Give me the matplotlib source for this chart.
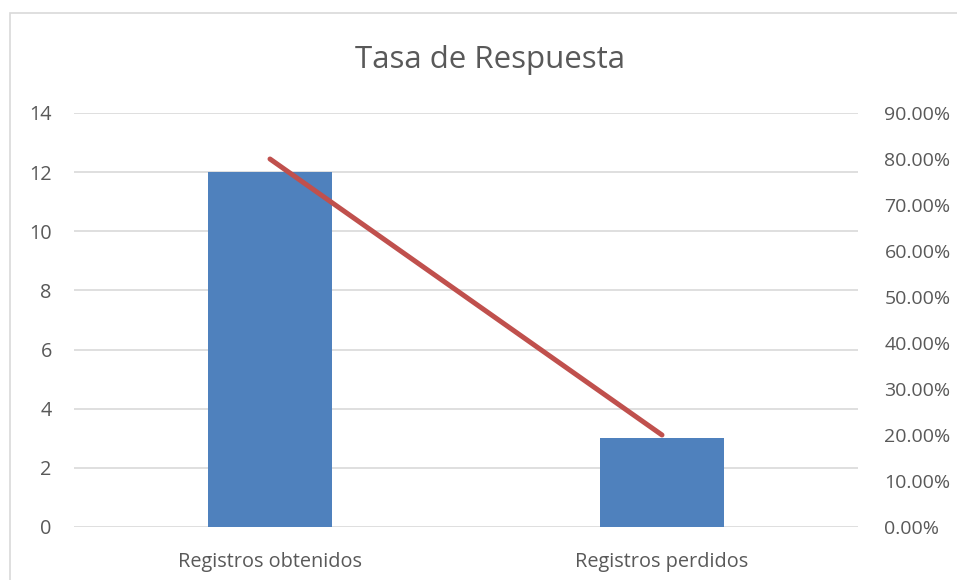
import matplotlib
matplotlib.use("Agg")
import matplotlib.pyplot as plt
from matplotlib.patches import Rectangle
from matplotlib.ticker import FuncFormatter

categories = ["Registros obtenidos", "Registros perdidos"]
counts = [12, 3]
rates = [0.80, 0.20]
left_ticks = [0, 2, 4, 6, 8, 10, 12, 14]
right_ticks = [0, 0.1, 0.2, 0.3, 0.4, 0.5, 0.6, 0.7, 0.8, 0.9]

plt.rcParams['font.family'] = ['Open Sans', 'DejaVu Sans']
txt = '#595959'

fig = plt.figure(figsize=(9.57, 5.80), dpi=100)
fig.patches.append(Rectangle((10/957, -0.1), 2, 1.1 - 13/580, transform=fig.transFigure,
                             fill=False, edgecolor='#d9d9d9', linewidth=1.2))
ax = fig.add_axes([74/957, 53/580, 784/957, 414/580])
x = list(range(len(categories)))
ax.bar(x, counts, width=0.314, color='#4F81BD', zorder=2)
ax.set_xlim(-0.5, 1.5)
ax.set_ylim(0, 14)
ax.set_yticks(left_ticks)
ax.set_xticks(x)
ax.set_xticklabels(categories)
ax.grid(axis='y', color='#d9d9d9', linewidth=1.2, zorder=0)
for s in ax.spines.values():
    s.set_visible(False)
ax.tick_params(axis='both', length=0, colors=txt, labelsize=14.3)
ax.tick_params(axis='y', pad=16)
ax.tick_params(axis='x', pad=18)

ax2 = ax.twinx()
ax2.plot(x, rates, color='#C0504D', linewidth=3.6, solid_capstyle='round', zorder=3)
ax2.set_ylim(0, 0.9)
ax2.set_yticks(right_ticks)
ax2.yaxis.set_major_formatter(FuncFormatter(lambda v, p: f"{v*100:.2f}%"))
for s in ax2.spines.values():
    s.set_visible(False)
ax2.tick_params(axis='y', length=0, colors=txt, labelsize=14, pad=19)

fig.text(490/957, 1 - 60/580, "Tasa de Respuesta", ha='center', va='center', fontsize=22.5, color=txt)
fig.savefig("out.png", dpi=100)
